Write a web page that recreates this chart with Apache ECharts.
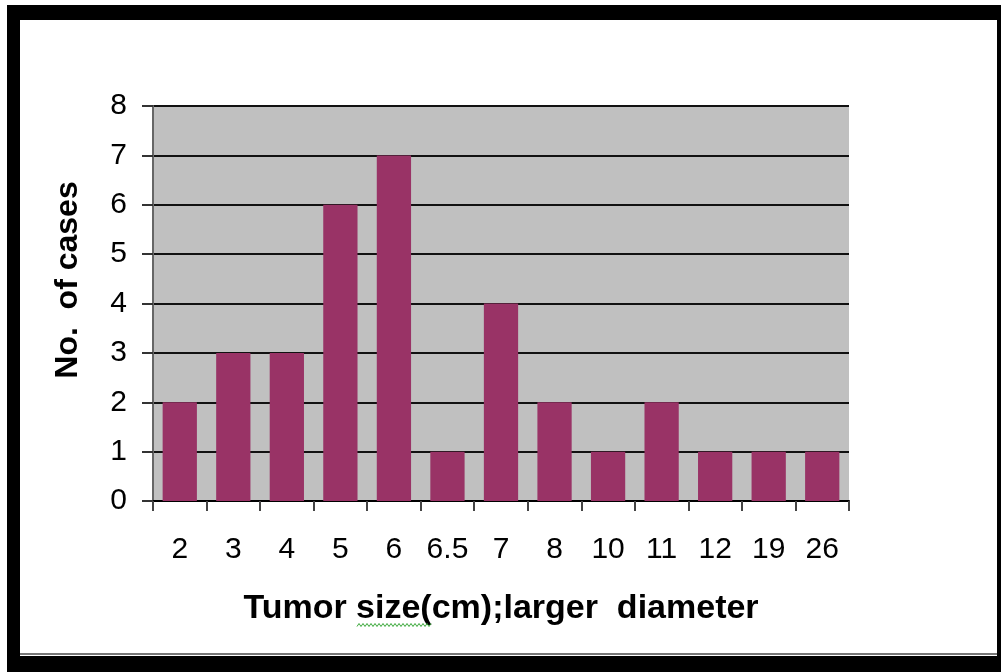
<!DOCTYPE html>
<html><head><meta charset="utf-8">
<script src="https://cdn.jsdelivr.net/npm/echarts@6/dist/echarts.min.js"></script>
<style>html,body{margin:0;padding:0;background:#fff}#c{width:1001px;height:672px}</style>
</head><body><div id="c"></div>
<script>
const categories = ['2','3','4','5','6','6.5','7','8','10','11','12','19','26'];
const cases = [2,3,3,6,7,1,4,2,1,2,1,1,1];
const yTicks = [0,1,2,3,4,5,6,7,8];
const xTitle = 'Tumor size(cm);larger  diameter';
const yTitle = 'No.  of cases';

const chart = echarts.init(document.getElementById('c'), null, {renderer:'canvas'});
const font = 'Liberation Sans, Arial, sans-serif';

// decorative spell-check squiggle under "size"
const squiggle = [];
for (let x = 357, i = 0; x <= 432; x += 2, i++) squiggle.push([x, 625 + (i % 2 ? -1.5 : 1.5)]);

chart.setOption({
  animation:false,
  backgroundColor:'#fff',
  graphic:[
    {type:'rect', shape:{x:7,y:5,width:994,height:15}, style:{fill:'#000'}, z:100},
    {type:'rect', shape:{x:7,y:5,width:13,height:667}, style:{fill:'#000'}, z:100},
    {type:'rect', shape:{x:7,y:656,width:994,height:16}, style:{fill:'#000'}, z:100},
    {type:'rect', shape:{x:997,y:5,width:4,height:667}, style:{fill:'#000'}, z:100},
    {type:'rect', shape:{x:20,y:653,width:977,height:2}, style:{fill:'#777'}, z:100},
    {type:'text', x:68, y:280, rotation:Math.PI/2,
     style:{text:yTitle, fill:'#000', font:'bold 32px ' + font, textAlign:'center', textVerticalAlign:'middle'}, z:100},
    {type:'polyline', shape:{points:squiggle}, style:{stroke:'#3aa83a', lineWidth:1, fill:null}, z:100}
  ],
  grid:{left:153, right:152, top:106, bottom:171, containLabel:false,
        show:true, backgroundColor:'#C0C0C0', borderWidth:0},
  xAxis:{
    type:'category', data:categories,
    axisLine:{lineStyle:{color:'#000', width:2}},
    axisTick:{show:true, interval:0, length:10, lineStyle:{color:'#444', width:2}},
    axisLabel:{color:'#000', interval:0, fontSize:30, fontFamily:font, margin:34, hideOverlap:false},
    name:xTitle, nameLocation:'middle', nameGap:91,
    nameTextStyle:{color:'#000', fontSize:34, fontWeight:'bold', fontFamily:font}
  },
  yAxis:{
    type:'value', min:0, max:8, interval:1,
    axisLine:{show:true, lineStyle:{color:'#666', width:2}},
    axisTick:{show:true, length:11, lineStyle:{color:'#333', width:2}},
    axisLabel:{color:'#000', fontSize:30, fontFamily:font, margin:26},
    splitLine:{lineStyle:{color:'#111', width:2}}
  },
  series:[{
    type:'bar', data:cases, barWidth:'64%',
    itemStyle:{color:'#993366'}
  }]
});
</script></body></html>
